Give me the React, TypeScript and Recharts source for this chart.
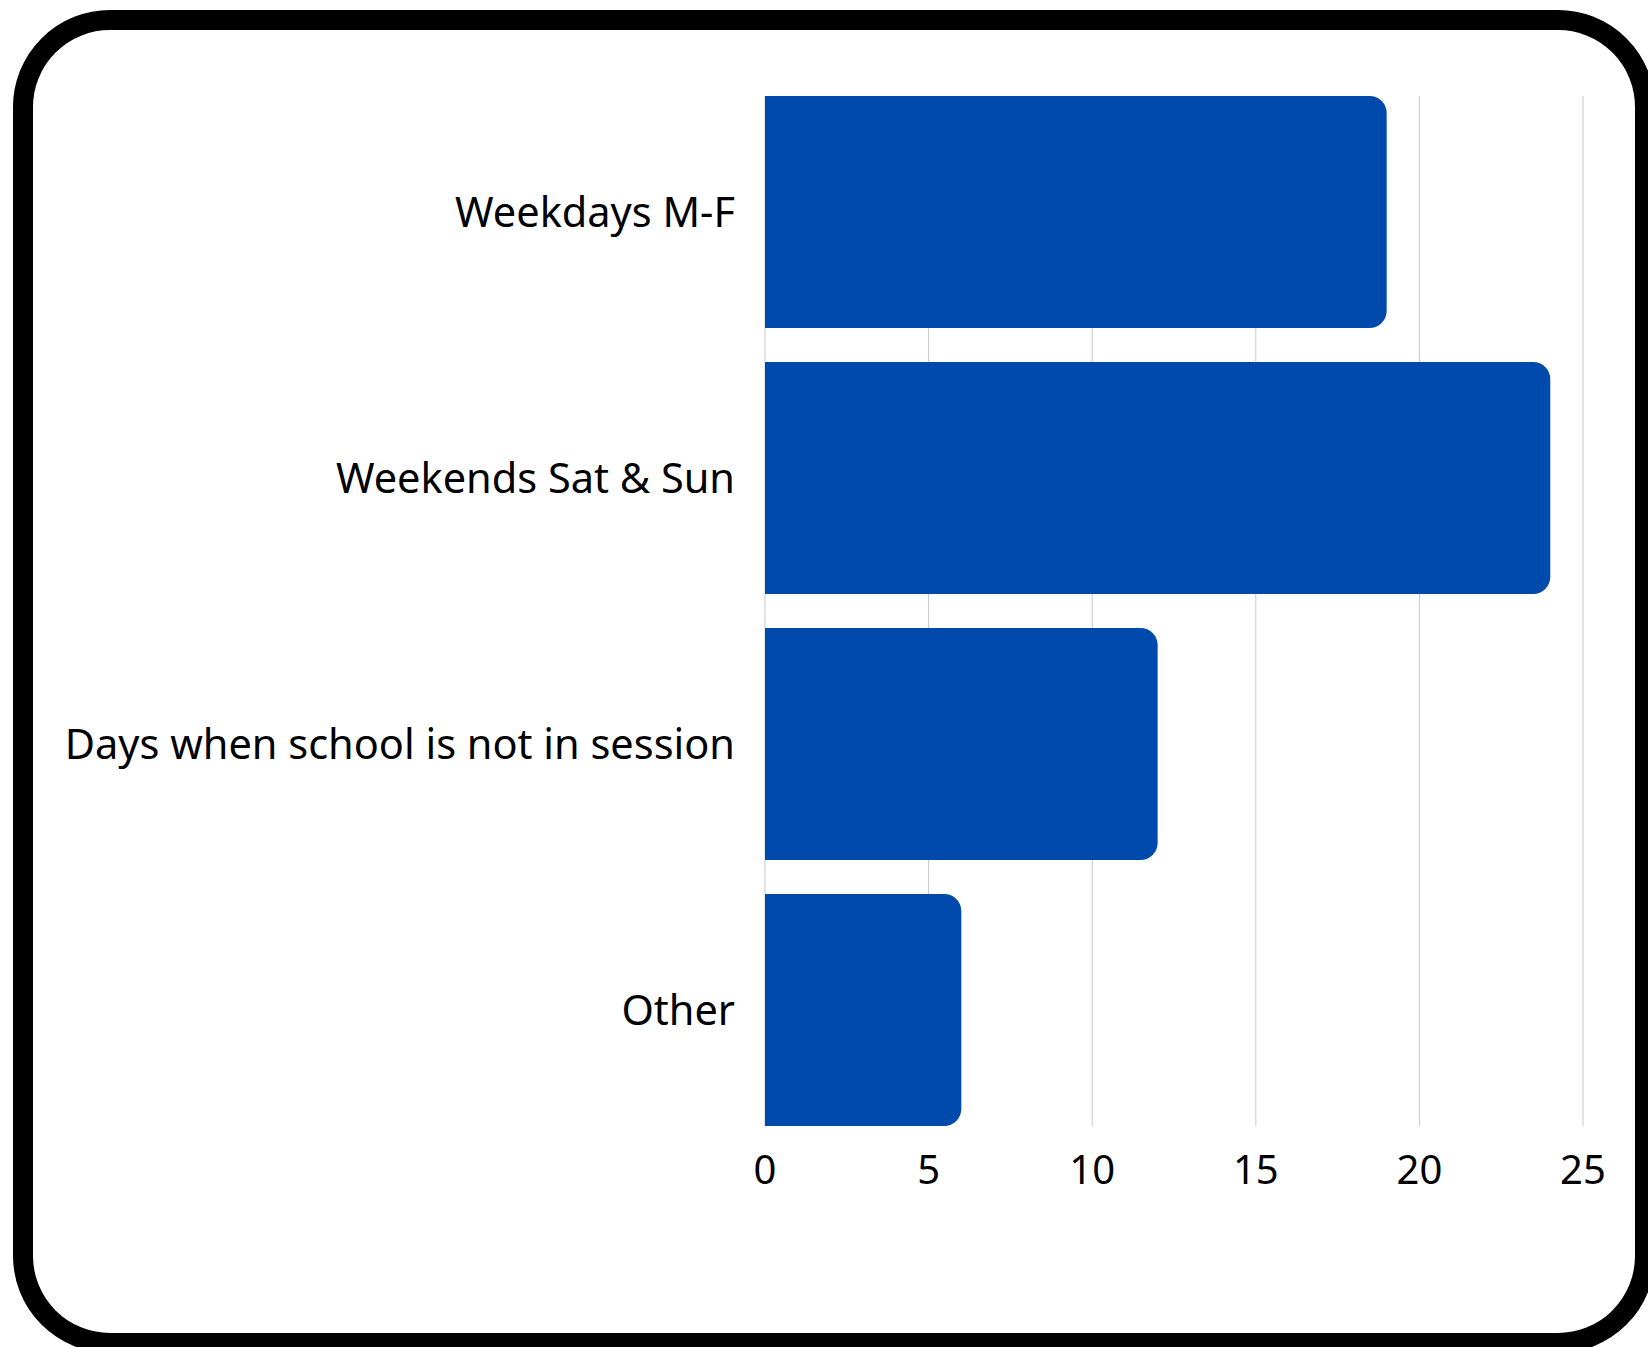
import React from 'react';
import { BarChart, Bar, XAxis, YAxis, CartesianGrid } from 'recharts';

const categories = ['Weekdays M-F', 'Weekends Sat & Sun', 'Days when school is not in session', 'Other'];
const counts = [19, 24, 12, 6];
const xTicks = [0, 5, 10, 15, 20, 25];

const data = categories.map((name, i) => ({ name, value: counts[i] }));

const FONT = '"Noto Sans", sans-serif';

export default function App() {
	return (
		<div
			style={{
				position: 'fixed',
				left: 0,
				top: 0,
				width: 1648,
				height: 1347,
				overflow: 'hidden',
				background: '#ffffff',
				fontFamily: FONT,
			}}
		>
			{/* rounded frame, partly cut off on the right and bottom */}
			<div
				style={{
					position: 'absolute',
					left: 13,
					top: 10,
					width: 1642,
					height: 1343,
					boxSizing: 'border-box',
					border: '20px solid #000',
					borderRadius: 97,
					pointerEvents: 'none',
				}}
			/>
			<div style={{ position: 'absolute', left: 0, top: 0 }}>
				<BarChart
					width={1648}
					height={1347}
					data={data}
					layout='vertical'
					margin={{ top: 96, right: 65, bottom: 161, left: 0 }}
				>
					<CartesianGrid horizontal={false} stroke='#c8c8c8' strokeWidth={1} />
					<XAxis
						type='number'
						domain={[0, 25]}
						ticks={xTicks}
						axisLine={false}
						tickLine={false}
						tickMargin={24}
						height={60}
						tick={{ fill: '#000', fontSize: 40, fontFamily: FONT }}
					/>
					<YAxis
						type='category'
						dataKey='name'
						width={765}
						axisLine={false}
						tickLine={false}
						tickMargin={24}
						padding={{ top: -17, bottom: -17 }}
						interval={0}
						tick={{ fill: '#000', fontSize: 41.5, fontFamily: FONT }}
					/>
					<Bar dataKey='value' fill='#004AAD' barSize={232} radius={[0, 17, 17, 0]} isAnimationActive={false} />
				</BarChart>
			</div>
		</div>
	);
}
